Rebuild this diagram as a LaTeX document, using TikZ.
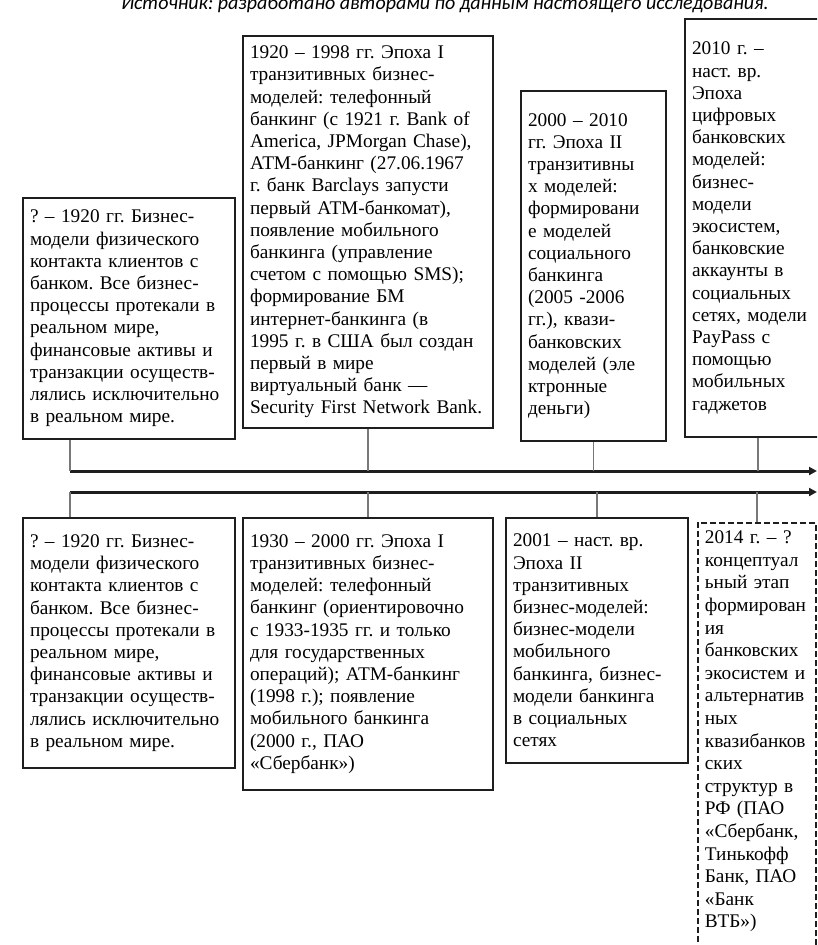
\documentclass[tikz,border=0pt]{standalone}
\usepackage{fontspec}
\setmainfont{Liberation Serif}
\newfontfamily\capfont{Carlito}
\usepackage{tikz}
\usetikzlibrary{arrows.meta}
\definecolor{framegray}{RGB}{30,30,30}
\definecolor{linkgray}{RGB}{120,120,120}
\frenchspacing

\begin{document}
\begin{tikzpicture}[
    x=1pt, y=-1pt,
    box/.style={rectangle, draw=framegray, line width=2pt, inner xsep=7pt, inner ysep=10pt,
        align=left, font=\fontsize{19.3}{22.2}\selectfont},
    dbox/.style={box, dashed, dash pattern=on 6pt off 3pt, line width=1.8pt,
        inner ysep=8pt, font=\fontsize{19.3}{22.6}\selectfont},
    axis/.style={line width=3pt, draw=framegray, -{Triangle[length=8pt,width=8pt]}},
    link/.style={line width=1.5pt, draw=linkgray},
    caption/.style={font=\capfont\itshape\fontsize{20}{22}\selectfont, anchor=base}
]
\useasboundingbox (0,0) rectangle (817,945);
\clip (0,0) rectangle (817,945);

\node[caption] (src) at (445,9) {Источник: разработано авторами по данным настоящего исследования.};

% upper row
\node[box, anchor=south west, text width=198pt, minimum height=241pt] (A1) at (22,440)
    {? – 1920 гг. Бизнес-\\модели физического\\контакта клиентов с\\банком. Все бизнес-\\процессы протекали в\\реальном мире,\\финансовые активы и\\транзакции осуществ-\\лялись исключительно\\в реальном мире.};
\node[box, anchor=south west, text width=236pt, minimum height=389pt] (A2) at (242,429)
    {1920 – 1998 гг. Эпоха I\\транзитивных бизнес-\\моделей: телефонный\\банкинг (с 1921 г. Bank of\\America, JPMorgan Chase),\\АТМ-банкинг (27.06.1967\\г. банк Barclays запусти\\первый АТМ-банкомат),\\появление мобильного\\банкинга (управление\\счетом с помощью SMS);\\формирование БМ\\интернет-банкинга (в\\1995 г. в США был создан\\первый в мире\\виртуальный банк —\\Security First Network Bank.};
\node[box, anchor=south west, text width=131pt, minimum height=350pt] (A3) at (520,442)
    {2000 – 2010\\гг. Эпоха II\\транзитивны\\х моделей:\\формировани\\е моделей\\социального\\банкинга\\(2005 -2006\\гг.), квази-\\банковских\\моделей (эле\\ктронные\\деньги)};
\node[box, anchor=south west, text width=132pt, minimum height=418pt] (A4) at (684,438)
    {2010 г. –\\наст. вр.\\Эпоха\\цифровых\\банковских\\моделей:\\бизнес-\\модели\\экосистем,\\банковские\\аккаунты в\\социальных\\сетях, модели\\PayPass с\\помощью\\мобильных\\гаджетов};

% time axes
\coordinate (t0) at (70,471);
\coordinate (t1) at (817,471);
\coordinate (b0) at (70,492);
\coordinate (b1) at (817,492);
\draw[axis] (t0) -- (t1);
\draw[axis] (b0) -- (b1);

% lower row
\node[box, anchor=north west, text width=198pt, minimum height=250pt] (B1) at (22,517)
    {? – 1920 гг. Бизнес-\\модели физического\\контакта клиентов с\\банком. Все бизнес-\\процессы протекали в\\реальном мире,\\финансовые активы и\\транзакции осуществ-\\лялись исключительно\\в реальном мире.};
\node[box, anchor=north west, text width=236pt, minimum height=272pt] (B2) at (242,517)
    {1930 – 2000 гг. Эпоха I\\транзитивных бизнес-\\моделей: телефонный\\банкинг (ориентировочно\\с 1933-1935 гг. и только\\для государственных\\операций); АТМ-банкинг\\(1998 г.); появление\\мобильного банкинга\\(2000 г., ПАО\\«Сбербанк»)};
\node[box, anchor=north west, text width=168pt, minimum height=245pt] (B3) at (505,517)
    {2001 – наст. вр.\\Эпоха II\\транзитивных\\бизнес-моделей:\\бизнес-модели\\мобильного\\банкинга, бизнес-\\модели банкинга\\в социальных\\сетях};
\node[dbox, anchor=north west, text width=104pt] (B4) at (697,522)
    {2014 г. – ?\\концептуал\\ьный этап\\формирован\\ия\\банковских\\экосистем и\\альтернатив\\ных\\квазибанков\\ских\\структур в\\РФ (ПАО\\«Сбербанк,\\Тинькофф\\Банк, ПАО\\«Банк\\ВТБ»)\\[6pt]\strut};

% links to the axes
\draw[link] (A1.south -| t0) -- (t0);
\draw[link] (A2.south) -- (A2.south |- t0);
\draw[link] (A3.south) -- (A3.south |- t0);
\draw[link] (A4.south) -- (A4.south |- t0);
\draw[link] (b0) -- (b0 |- B1.north);
\draw[link] (B2.north |- b0) -- (B2.north);
\draw[link] (B3.north |- b0) -- (B3.north);
\draw[link] (B4.north |- b0) -- (B4.north);
\end{tikzpicture}
\end{document}
